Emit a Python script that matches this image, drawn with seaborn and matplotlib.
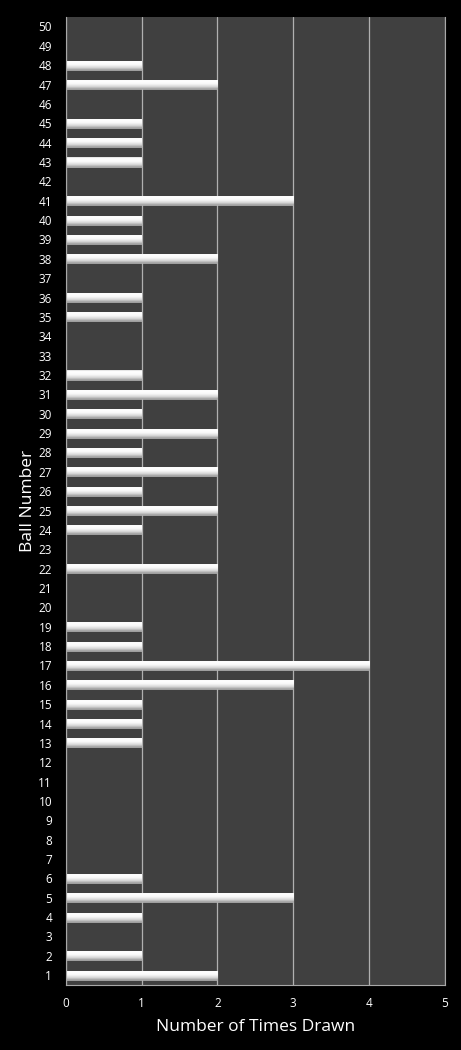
import numpy as np
import pandas as pd
import matplotlib
matplotlib.use("Agg")
import matplotlib.pyplot as plt
import seaborn as sns

balls = list(range(1, 51))
times_drawn = [2, 1, 0, 1, 3, 1, 0, 0, 0, 0,
               0, 0, 1, 1, 1, 3, 4, 1, 1, 0,
               0, 2, 0, 1, 2, 1, 2, 1, 2, 1,
               2, 1, 0, 0, 1, 1, 0, 2, 1, 1,
               3, 0, 1, 1, 1, 0, 2, 1, 0, 0]
x_ticks = [0, 1, 2, 3, 4, 5]

df = pd.DataFrame({"ball": [str(b) for b in balls], "times": times_drawn})
order = [str(b) for b in reversed(balls)]

sns.set_style("dark")
plt.rcParams['font.family'] = ['Open Sans', 'DejaVu Sans']

fig = plt.figure(figsize=(4.61, 10.5), dpi=100, facecolor="black")
ax = fig.add_axes([0.143, 0.062, 0.822, 0.922])
ax.set_facecolor("#404040")

sns.barplot(data=df, x="times", y="ball", order=order, orient="h",
            color="white", width=0.47, ax=ax, edgecolor="#a0a0a0", linewidth=0.5)

# glossy shading: light top edge, white body, grey towards the bottom
stops = [0.0, 0.12, 0.45, 0.75, 1.0]
levels = [0.85, 1.0, 0.98, 0.85, 0.62]
grad = np.interp(np.linspace(0, 1, 64), stops, levels).reshape(-1, 1)
cmap = plt.get_cmap("gray")
for p in ax.patches:
    w = p.get_width()
    if w <= 0:
        continue
    x0, y0, h = p.get_x(), p.get_y(), p.get_height()
    im = ax.imshow(grad, cmap=cmap, vmin=0, vmax=1, aspect="auto",
                   extent=[x0, x0 + w, y0 + h, y0], zorder=p.get_zorder() + 0.1,
                   interpolation="bilinear")
    im.set_clip_path(p)

ax.set_xlim(0, 5)
ax.set_ylim(49.5, -0.5)
ax.set_xticks(x_ticks)
ax.grid(axis="x", color="#b0b0b0", linewidth=0.9)
ax.grid(axis="y", visible=False)
ax.set_axisbelow(True)
for s in ax.spines.values():
    s.set_visible(True)
    s.set_color("#a8a8a8")
    s.set_linewidth(0.8)
ax.spines["top"].set_visible(False)

ax.tick_params(axis="both", colors="white", labelsize=8.5, length=0)
ax.tick_params(axis="x", pad=9)
ax.tick_params(axis="y", pad=10)
ax.set_xlabel("Number of Times Drawn", color="white", fontsize=12.5, labelpad=6)
ax.set_ylabel("Ball Number", color="white", fontsize=12.5, labelpad=2)

fig.savefig("out.png", dpi=100, facecolor="black")
